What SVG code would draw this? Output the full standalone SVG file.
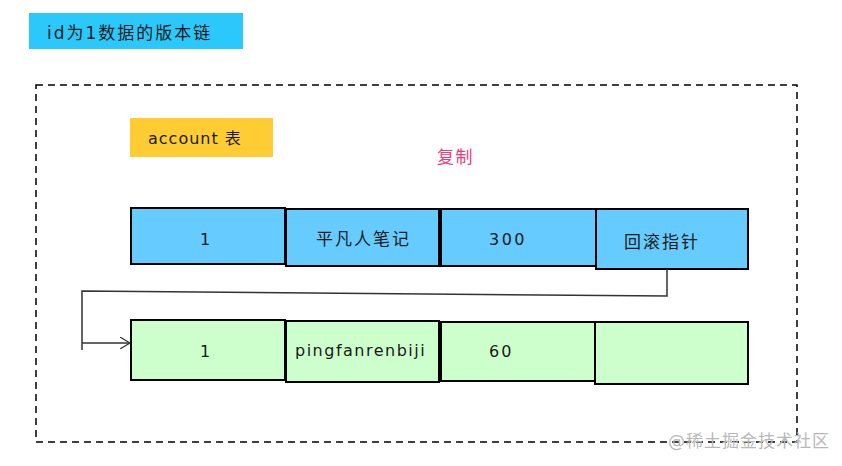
<svg xmlns="http://www.w3.org/2000/svg" width="842" height="466" viewBox="0 0 842 466">
<defs>
<style>
text{font-family:"DejaVu Sans","Noto Sans CJK SC",sans-serif;font-size:16px;fill:#1a1a1a;letter-spacing:1.3px}
.cj{font-size:17px;letter-spacing:2px}
.b{fill:#66ccff;stroke:#000;stroke-width:2}
.g{fill:#ccffcc;stroke:#000;stroke-width:2}
.ln{fill:none;stroke:#333;stroke-width:1.5}
</style>
<marker id="ah" markerWidth="12" markerHeight="12" refX="10" refY="6" orient="auto" markerUnits="userSpaceOnUse">
<path d="M0,0 L10,6 L0,12" fill="none" stroke="#333" stroke-width="1.2"/>
</marker>
</defs>
<rect width="842" height="466" fill="#fff"/>
<g id="title"><rect x="29" y="13" width="214" height="36" fill="#2bc9fb"/><text class="cj" x="47" y="39">id为1数据的版本链</text></g>
<rect id="frame" x="36" y="85" width="761" height="357" fill="none" stroke="#000" stroke-width="1.5" stroke-dasharray="7,5"/>
<g id="account"><rect x="130" y="118" width="143" height="39" fill="#ffcc33"/><text x="148" y="144" style="letter-spacing:1px">account 表</text></g>
<text id="copy" class="cj" x="437" y="163" style="fill:#ee3a7a;letter-spacing:1.5px">复制</text>
<g id="row1">
<g id="r1c1"><rect class="b" x="131" y="208" width="154" height="56"/><text x="200" y="245">1</text></g>
<g id="r1c2"><rect class="b" x="286" y="209" width="153" height="57"/><text class="cj" x="316" y="245">平凡人笔记</text></g>
<g id="r1c3"><rect class="b" x="441" y="209" width="155" height="57"/><text x="489" y="245" style="letter-spacing:2.5px">300</text></g>
<g id="r1c4"><rect class="b" x="596" y="209" width="152" height="60"/><text class="cj" x="624" y="248">回滚指针</text></g>
</g>
<g id="row2">
<g id="r2c1"><rect class="g" x="131" y="320" width="154" height="60"/><text x="200" y="357">1</text></g>
<g id="r2c2"><rect class="g" x="286" y="321" width="153" height="61"/><text x="295" y="356" style="letter-spacing:1.5px">pingfanrenbiji</text></g>
<g id="r2c3"><rect class="g" x="441" y="322" width="154" height="59"/><text x="489" y="357" style="letter-spacing:2px">60</text></g>
<g id="r2c4"><rect class="g" x="595" y="322" width="153" height="62"/></g>
</g>
<g id="connectors">
<polyline class="ln" points="667,269 667,296 82,291 82,350"/>
<line class="ln" x1="82" y1="343" x2="130" y2="343" marker-end="url(#ah)"/>
</g>
<text id="wm" x="668" y="447" style="fill:#b8b8b8;font-size:17px;letter-spacing:1px">@稀土掘金技术社区</text>
</svg>
